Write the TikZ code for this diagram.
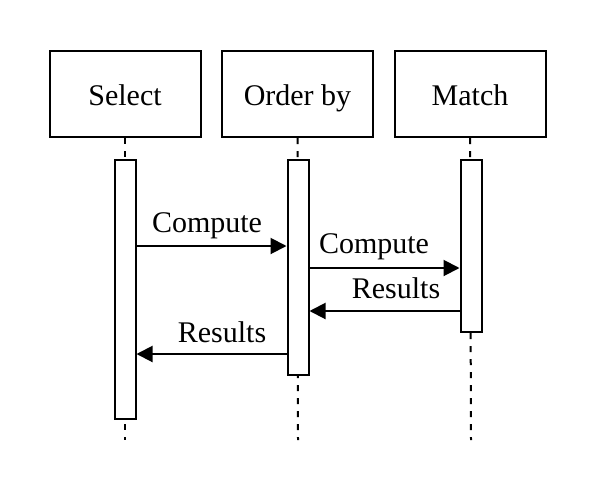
\documentclass[tikz,border=0pt]{standalone}
\usepackage{fontspec}
\setmainfont{Liberation Serif}
\usetikzlibrary{arrows.meta}
\begin{document}
\begin{tikzpicture}[x=1pt,y=-1pt,
  head/.style={draw,line width=2pt,minimum width=151pt,minimum height=86pt,inner sep=0pt,text height=26pt,text depth=4pt,font=\fontsize{30}{34}\selectfont},
  bar/.style={draw,fill=white,line width=2pt,minimum width=21pt,inner sep=0pt},
  life/.style={line width=2pt,dash pattern=on 6pt off 7pt},
  msg/.style={line width=2pt,-{Triangle[length=16pt,width=16pt]}},
  lbl/.style={font=\fontsize{30}{34}\selectfont,anchor=base,inner sep=0pt}]
\useasboundingbox (0,0) rectangle (597,477);
\node[head] (sel) at (125,94) {Select};
\node[head] (ord) at (297.5,94) {Order by};
\node[head] (mat) at (470,94) {Match};
\coordinate (selend) at (125,440);
\coordinate (ordend) at (298,440);
\coordinate (matend) at (471,440);
\draw[life] (sel.south) -- (selend);
\draw[life] (ord.south) -- (ordend);
\draw[life] (mat.south) -- (matend);
\node[bar,minimum height=259pt] (selbar) at (125,289) {};
\node[bar,minimum height=215pt] (ordbar) at (298,267.5) {};
\node[bar,minimum height=172pt] (matbar) at (471,246) {};
\draw[msg] (selbar.east |- 0,246) -- (ordbar.west |- 0,246);
\draw[msg] (ordbar.east |- 0,268) -- (matbar.west |- 0,268);
\draw[msg] (matbar.west |- 0,311) -- (ordbar.east |- 0,311);
\draw[msg] (ordbar.west |- 0,354) -- (selbar.east |- 0,354);
\node[lbl] (l1) at (207,232) {Compute};
\node[lbl] (l2) at (374,253) {Compute};
\node[lbl] (l3) at (396,298) {Results};
\node[lbl] (l4) at (222,342) {Results};
\end{tikzpicture}
\end{document}
